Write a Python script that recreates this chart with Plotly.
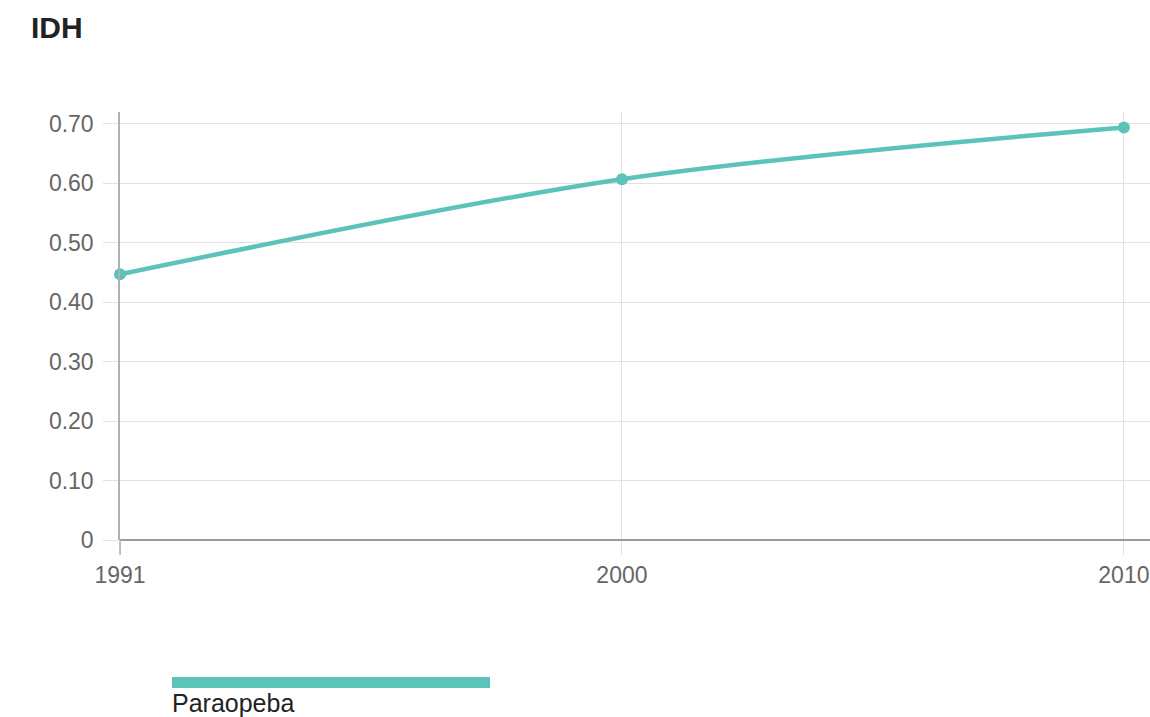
import plotly.graph_objects as go

# IDH series for Paraopeba
anos = ["1991", "2000", "2010"]
idh = [0.447, 0.607, 0.694]
serie = "Paraopeba"

y_ticks = [0, 0.1, 0.2, 0.3, 0.4, 0.5, 0.6, 0.7]
y_tick_labels = ["0", "0.10", "0.20", "0.30", "0.40", "0.50", "0.60", "0.70"]

cor = "#5cc3ba"
W, H = 1150, 717
M_L, M_R, M_T, M_B = 120, 0, 112, 177
FONT = "Liberation Sans, Arial"

fig = go.Figure()
fig.add_trace(go.Scatter(
    x=anos, y=idh, name=serie, mode="lines+markers",
    line=dict(color=cor, width=4.5, shape="spline", smoothing=0.9),
    marker=dict(color=cor, size=12),
    showlegend=False, cliponaxis=False,
))

# legend swatch (wide bar) with label beneath, placed in pixel terms
plot_w = W - M_L - M_R
plot_h = H - M_T - M_B
def px_x(p):
    return (p - M_L) / plot_w
def px_y(p):
    return (H - M_B - p) / plot_h

fig.add_shape(type="rect", xref="paper", yref="paper",
              x0=px_x(172), x1=px_x(490), y0=px_y(688), y1=px_y(677),
              fillcolor=cor, line=dict(width=0))
fig.add_annotation(xref="paper", yref="paper", x=px_x(170), y=px_y(703),
                   xanchor="left", yanchor="middle", showarrow=False,
                   text=serie, font=dict(size=25, color="#222222", family=FONT))

fig.update_layout(
    width=W, height=H, autosize=False,
    margin=dict(l=M_L, r=M_R, t=M_T, b=M_B),
    paper_bgcolor="white", plot_bgcolor="white",
    font=dict(family=FONT, color="#666666"),
    title=dict(text="<b>IDH</b>", xref="container", yref="container",
               x=31 / W, y=1 - 27 / H, xanchor="left", yanchor="middle",
               font=dict(size=30, color="#222222", family=FONT)),
    xaxis=dict(
        type="category", range=[0, 2.052],
        showgrid=True, gridcolor="#e2e2e2", gridwidth=1,
        showline=False, zeroline=False,
        ticks="outside", ticklen=14, tickcolor="#e2e2e2",
        tickfont=dict(size=23, color="#666666"),
    ),
    yaxis=dict(
        range=[0, 0.72], tickvals=y_ticks, ticktext=y_tick_labels,
        showgrid=True, gridcolor="#e2e2e2", gridwidth=1,
        zeroline=True, zerolinecolor="#9a9a9a", zerolinewidth=1.5,
        showline=True, linecolor="#b0b0b0", linewidth=1.5,
        ticks="outside", ticklen=15, tickcolor="#e2e2e2",
        ticklabelstandoff=5,
        tickfont=dict(size=23, color="#666666"),
    ),
)

# y axis line continues below zero like a tick at the first category
fig.add_shape(type="line", xref="paper", yref="paper",
              x0=0, x1=0, y0=0, y1=px_y(555),
              line=dict(color="#b0b0b0", width=1.5))

fig.write_html("out.html")
